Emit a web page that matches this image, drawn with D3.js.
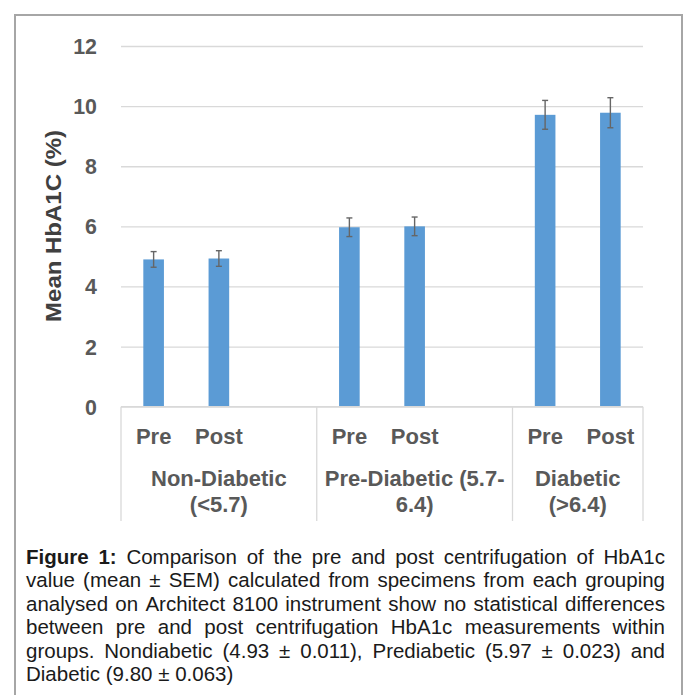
<!DOCTYPE html>
<html>
<head>
<meta charset="utf-8">
<script src="https://cdn.jsdelivr.net/npm/d3@7/dist/d3.min.js"></script>
<style>
  html, body { margin: 0; padding: 0; background: #fff; }
  svg { display: block; }
</style>
</head>
<body>
<script>
// ---- data ----
const slots = ["g1-pre", "g1-post", "g1-gap", "g2-pre", "g2-post", "g2-gap", "g3-pre", "g3-post"];
const slotLabels = ["Pre", "Post", "", "Pre", "Post", "", "Pre", "Post"];
const groups = [
  { name: ["Non-Diabetic", "(<5.7)"], from: 0, to: 3 },
  { name: ["Pre-Diabetic (5.7-", "6.4)"], from: 3, to: 6 },
  { name: ["Diabetic", "(>6.4)"], from: 6, to: 8 }
];
const barSlots = ["g1-pre", "g1-post", "g2-pre", "g2-post", "g3-pre", "g3-post"];
const meanValues = [4.90, 4.93, 5.97, 6.00, 9.71, 9.78];
const semValues = [0.26, 0.26, 0.31, 0.31, 0.48, 0.50];
const yTicks = [0, 2, 4, 6, 8, 10, 12];
const yTitle = "Mean HbA1C (%)";
const captionLines = [
  [["Figure", true], ["1:", true], ["Comparison", false], ["of", false], ["the", false], ["pre", false], ["and", false], ["post", false], ["centrifugation", false], ["of", false], ["HbA1c", false]],
  "value (mean ± SEM) calculated from specimens from each grouping",
  "analysed on Architect 8100 instrument show no statistical differences",
  "between pre and post centrifugation HbA1c measurements within",
  "groups. Nondiabetic (4.93 ± 0.011), Prediabetic (5.97 ± 0.023) and",
  "Diabetic (9.80 ± 0.063)"
];

// ---- layout ----
const W = 686, H = 695;
const font = "'Liberation Sans', Arial, Helvetica, sans-serif";
const textCol = "#595959";
const sx = 0.93; // horizontal squeeze of tick text

const svg = d3.select("body").append("svg").attr("width", W).attr("height", H);

svg.append("rect")
  .attr("x", 15).attr("y", 15).attr("width", 667).attr("height", 720)
  .attr("fill", "none").attr("stroke", "#a6a6a6").attr("stroke-width", 2);

const plot = { left: 121, right: 643, top: 46, bottom: 406.7 };

const x = d3.scaleBand().domain(slots).range([plot.left, plot.right]).paddingInner(0).paddingOuter(0);
const y = d3.scaleLinear().domain([0, 12]).range([plot.bottom, plot.top]);
const barW = x.bandwidth() * 0.316;

// gridlines
const yAxis = d3.axisLeft(y).tickValues(yTicks).tickSize(-(plot.right - plot.left)).tickFormat("");
const gy = svg.append("g").attr("transform", `translate(${plot.left},0)`).call(yAxis);
gy.select(".domain").remove();
gy.selectAll(".tick line").attr("stroke", "#d9d9d9").attr("stroke-width", 1.3);

// tick labels
svg.append("g").selectAll("text").data(yTicks).join("text")
  .attr("transform", d => `translate(97,${y(d) + 8}) scale(${sx},1)`)
  .attr("text-anchor", "end")
  .attr("font-family", font).attr("font-weight", "bold").attr("font-size", 23)
  .attr("fill", textCol)
  .text(d => d);

// bars
svg.append("g").selectAll("rect").data(meanValues).join("rect")
  .attr("x", (d, i) => x(barSlots[i]) + x.bandwidth() / 2 - barW / 2)
  .attr("y", d => y(d))
  .attr("width", barW)
  .attr("height", d => y(0) - y(d))
  .attr("fill", "#5b9bd5");

// error bars
const eg = svg.append("g").attr("stroke", "#666666").attr("stroke-width", 1.4);
meanValues.forEach((m, i) => {
  const cx = x(barSlots[i]) + x.bandwidth() / 2;
  const e = semValues[i];
  eg.append("line").attr("x1", cx).attr("x2", cx).attr("y1", y(m + e)).attr("y2", y(m - e));
  eg.append("line").attr("x1", cx - 3).attr("x2", cx + 3).attr("y1", y(m + e)).attr("y2", y(m + e));
  eg.append("line").attr("x1", cx - 3).attr("x2", cx + 3).attr("y1", y(m - e)).attr("y2", y(m - e));
});

// category axis line
svg.append("line")
  .attr("x1", plot.left).attr("x2", plot.right).attr("y1", plot.bottom).attr("y2", plot.bottom)
  .attr("stroke", "#d9d9d9").attr("stroke-width", 1.3);

// group separators
const sepX = [x(slots[0])].concat(groups.map(g => g.to < slots.length ? x(slots[g.to]) : plot.right));
svg.append("g").selectAll("line").data(sepX).join("line")
  .attr("x1", d => d).attr("x2", d => d)
  .attr("y1", plot.bottom).attr("y2", 521)
  .attr("stroke", "#d9d9d9").attr("stroke-width", 1.3);

// slot labels (Pre / Post)
svg.append("g").selectAll("text").data(slots.filter((s, i) => slotLabels[i])).join("text")
  .attr("transform", s => `translate(${x(s) + x.bandwidth() / 2},444)`)
  .attr("text-anchor", "middle")
  .attr("font-family", font).attr("font-weight", "bold").attr("font-size", 22)
  .attr("fill", textCol)
  .text(s => slotLabels[slots.indexOf(s)]);

// group labels
groups.forEach(g => {
  const gx0 = x(slots[g.from]);
  const gx1 = g.to < slots.length ? x(slots[g.to]) : plot.right;
  const cx = (gx0 + gx1) / 2;
  g.name.forEach((line, li) => {
    svg.append("text")
      .attr("transform", `translate(${cx},${486 + li * 26})`)
      .attr("text-anchor", "middle")
      .attr("font-family", font).attr("font-weight", "bold").attr("font-size", 22)
      .attr("fill", textCol)
      .text(line);
  });
});

// y title
svg.append("text")
  .attr("transform", `translate(61,226) rotate(-90) scale(1,0.92)`)
  .attr("text-anchor", "middle")
  .attr("font-family", font).attr("font-weight", "bold").attr("font-size", 24)
  .attr("fill", "#404040")
  .text(yTitle);

// caption (justified lines)
const capLeft = 26, capRight = 665, capTop = 564, capLH = 23.4, capSize = 20.5;
captionLines.forEach((line, li) => {
  const words = typeof line === "string" ? line.split(" ").map(w => [w, false]) : line;
  const yy = capTop + li * capLH;
  const nodes = words.map(([w, b]) => svg.append("text")
    .attr("y", yy)
    .attr("font-family", font).attr("font-size", capSize)
    .attr("font-weight", b ? "bold" : "normal")
    .attr("fill", "#1a1a1a")
    .text(w));
  const widths = nodes.map(n => n.node().getComputedTextLength());
  const total = d3.sum(widths);
  const last = li === captionLines.length - 1;
  const gap = last ? capSize * 0.278 : (capRight - capLeft - total) / (words.length - 1);
  let cx = capLeft;
  nodes.forEach((n, i) => { n.attr("x", cx); cx += widths[i] + gap; });
});
</script>
</body>
</html>
